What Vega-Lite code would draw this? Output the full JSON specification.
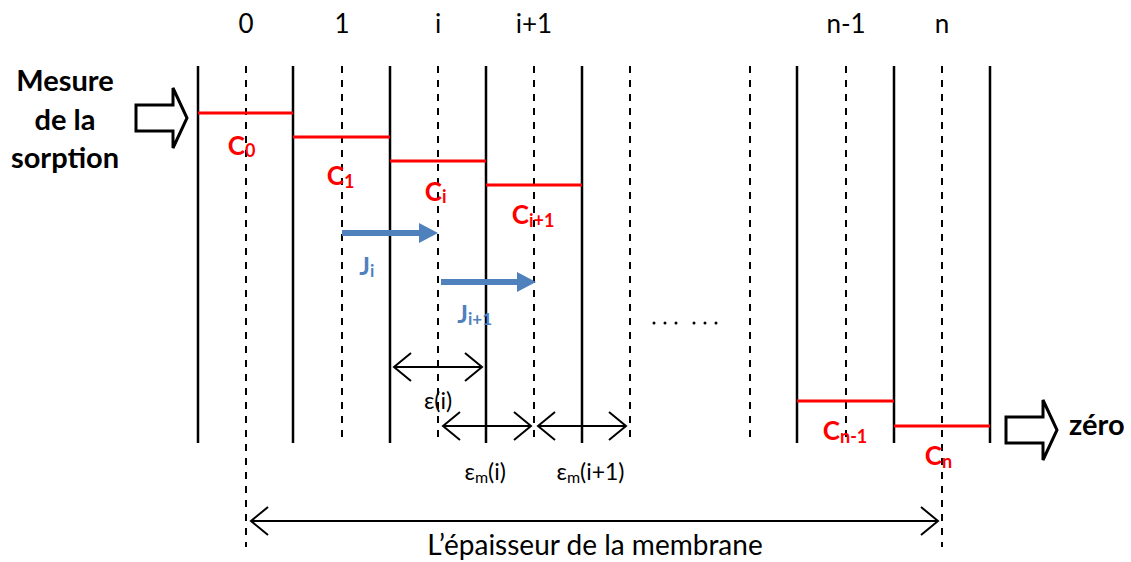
{
  "$schema": "https://vega.github.io/schema/vega-lite/v6.json",
  "width": 1131,
  "height": 562,
  "padding": 0,
  "autosize": {"type": "none"},
  "background": "white",
  "config": {"view": {"stroke": null}, "axis": {"disable": true}, "text": {"font": "Lato"}},
  "datasets": {
    "solid": [
      {"x": 198, "top": 66, "bottom": 443}, {"x": 293, "top": 66, "bottom": 443},
      {"x": 390, "top": 66, "bottom": 443}, {"x": 486, "top": 66, "bottom": 443},
      {"x": 582, "top": 66, "bottom": 443}, {"x": 797, "top": 66, "bottom": 443},
      {"x": 894, "top": 66, "bottom": 443}, {"x": 990, "top": 66, "bottom": 443}
    ],
    "dashed": [
      {"x": 246, "top": 66, "bottom": 547}, {"x": 342, "top": 66, "bottom": 443},
      {"x": 438, "top": 66, "bottom": 443}, {"x": 534, "top": 66, "bottom": 443},
      {"x": 630, "top": 66, "bottom": 443}, {"x": 750, "top": 66, "bottom": 443},
      {"x": 846, "top": 66, "bottom": 443}, {"x": 942, "top": 66, "bottom": 547}
    ],
    "conc": [
      {"x1": 198, "x2": 293, "y": 113}, {"x1": 293, "x2": 390, "y": 137},
      {"x1": 390, "x2": 486, "y": 161}, {"x1": 486, "x2": 582, "y": 185},
      {"x1": 797, "x2": 894, "y": 401}, {"x1": 894, "x2": 990, "y": 426}
    ],
    "flux": [
      {"x1": 342, "xs": 420, "x2": 438, "y": 233},
      {"x1": 441, "xs": 518, "x2": 536, "y": 282}
    ],
    "span": [
      {"x1": 394, "x2": 482, "y": 367},
      {"x1": 443, "x2": 531, "y": 426},
      {"x1": 538, "x2": 626, "y": 426},
      {"x1": 251, "x2": 938, "y": 521}
    ],
    "block": [{"x": 187, "y": 118}, {"x": 1057, "y": 430}],
    "dots": [
      {"x": 654, "y": 323}, {"x": 665, "y": 323}, {"x": 676, "y": 323},
      {"x": 694, "y": 323}, {"x": 705, "y": 323}, {"x": 716, "y": 323}
    ],
    "labels": [
      {"role": "top", "text": "0", "x": 246, "y": 25},
      {"role": "top", "text": "1", "x": 342, "y": 25},
      {"role": "top", "text": "i", "x": 438, "y": 25},
      {"role": "top", "text": "i+1", "x": 534, "y": 25},
      {"role": "top", "text": "n-1", "x": 846, "y": 25},
      {"role": "top", "text": "n", "x": 942, "y": 25},
      {"role": "side", "text": "Mesure", "x": 65, "y": 91},
      {"role": "side", "text": "de la", "x": 65, "y": 130},
      {"role": "side", "text": "sorption", "x": 65, "y": 168},
      {"role": "zero", "text": "zéro", "x": 1069, "y": 435},
      {"role": "cBase", "text": "C", "x": 245, "y": 147},
      {"role": "cSub", "text": "0", "x": 245, "y": 152},
      {"role": "cBase", "text": "C", "x": 344, "y": 177},
      {"role": "cSub", "text": "1", "x": 344, "y": 183},
      {"role": "cBase", "text": "C", "x": 442, "y": 193},
      {"role": "cSub", "text": "i", "x": 442, "y": 198},
      {"role": "cBase", "text": "C", "x": 529, "y": 216},
      {"role": "cSub", "text": "i+1", "x": 529, "y": 222},
      {"role": "cBase", "text": "C", "x": 840, "y": 432},
      {"role": "cSub", "text": "n-1", "x": 840, "y": 438},
      {"role": "cBase", "text": "C", "x": 942, "y": 457},
      {"role": "cSub", "text": "n", "x": 942, "y": 463},
      {"role": "jBase", "text": "J", "x": 370, "y": 267},
      {"role": "jSub", "text": "i", "x": 370, "y": 272},
      {"role": "jBase", "text": "J", "x": 468, "y": 315},
      {"role": "jSub", "text": "i+1", "x": 468, "y": 320},
      {"role": "eps", "text": "ε(i)", "x": 438, "y": 402},
      {"role": "epsBase", "text": "ε", "x": 475, "y": 473},
      {"role": "epsSub", "text": "m", "x": 475, "y": 478},
      {"role": "epsTail", "text": "(i)", "x": 488, "y": 473},
      {"role": "epsBase", "text": "ε", "x": 567, "y": 473},
      {"role": "epsSub", "text": "m", "x": 567, "y": 478},
      {"role": "epsTail", "text": "(i+1)", "x": 580, "y": 473},
      {"role": "membrane", "text": "L’épaisseur de la membrane", "x": 595, "y": 547}
    ]
  },
  "layer": [
    {
      "data": {"name": "solid"},
      "mark": {"type": "rule", "color": "black", "strokeWidth": 2.5},
      "encoding": {
        "x": {"field": "x", "type": "quantitative", "scale": {"domain": [0, 1131], "range": [0, 1131], "nice": false, "zero": false}},
        "y": {"field": "top", "type": "quantitative", "scale": {"domain": [0, 562], "range": [0, 562], "nice": false, "zero": false}},
        "y2": {"field": "bottom"}
      }
    },
    {
      "data": {"name": "dashed"},
      "mark": {"type": "rule", "color": "black", "strokeWidth": 2, "strokeDash": [7, 7]},
      "encoding": {
        "x": {"field": "x", "type": "quantitative"},
        "y": {"field": "top", "type": "quantitative"},
        "y2": {"field": "bottom"}
      }
    },
    {
      "data": {"name": "conc"},
      "mark": {"type": "rule", "color": "#FF0000", "strokeWidth": 3},
      "encoding": {
        "x": {"field": "x1", "type": "quantitative"},
        "x2": {"field": "x2"},
        "y": {"field": "y", "type": "quantitative"}
      }
    },
    {
      "data": {"name": "flux"},
      "mark": {"type": "rule", "color": "#4F81BD", "strokeWidth": 6},
      "encoding": {
        "x": {"field": "x1", "type": "quantitative"},
        "x2": {"field": "xs"},
        "y": {"field": "y", "type": "quantitative"}
      }
    },
    {
      "data": {"name": "flux"},
      "mark": {"type": "point", "shape": "M-19,-10L0,0L-19,10Z", "size": 4, "filled": true, "color": "#4F81BD", "opacity": 1, "strokeWidth": 0},
      "encoding": {
        "x": {"field": "x2", "type": "quantitative"},
        "y": {"field": "y", "type": "quantitative"}
      }
    },
    {
      "data": {"name": "span"},
      "mark": {"type": "rule", "color": "black", "strokeWidth": 2},
      "encoding": {
        "x": {"field": "x1", "type": "quantitative"},
        "x2": {"field": "x2"},
        "y": {"field": "y", "type": "quantitative"}
      }
    },
    {
      "data": {"name": "span"},
      "mark": {"type": "point", "shape": "M-17,-14L0,0L-17,14", "size": 4, "filled": false, "color": "black", "opacity": 1, "strokeWidth": 2},
      "encoding": {
        "x": {"field": "x2", "type": "quantitative"},
        "y": {"field": "y", "type": "quantitative"}
      }
    },
    {
      "data": {"name": "span"},
      "mark": {"type": "point", "shape": "M17,-14L0,0L17,14", "size": 4, "filled": false, "color": "black", "opacity": 1, "strokeWidth": 2},
      "encoding": {
        "x": {"field": "x1", "type": "quantitative"},
        "y": {"field": "y", "type": "quantitative"}
      }
    },
    {
      "data": {"name": "block"},
      "mark": {"type": "point", "shape": "M-51,-13L-14,-13L-14,-30L0,0L-14,30L-14,13L-51,13Z", "size": 4, "filled": false, "color": "black", "opacity": 1, "strokeWidth": 3, "strokeJoin": "miter"},
      "encoding": {
        "x": {"field": "x", "type": "quantitative"},
        "y": {"field": "y", "type": "quantitative"}
      }
    },
    {
      "data": {"name": "dots"},
      "mark": {"type": "point", "shape": "circle", "size": 9, "filled": true, "color": "black", "opacity": 1},
      "encoding": {
        "x": {"field": "x", "type": "quantitative"},
        "y": {"field": "y", "type": "quantitative"}
      }
    },
    {
      "data": {"name": "labels"},
      "transform": [{"filter": "datum.role == 'top'"}],
      "mark": {"type": "text", "fontSize": 26, "color": "black", "align": "center", "baseline": "middle"},
      "encoding": {"x": {"field": "x", "type": "quantitative"}, "y": {"field": "y", "type": "quantitative"}, "text": {"field": "text"}}
    },
    {
      "data": {"name": "labels"},
      "transform": [{"filter": "datum.role == 'side'"}],
      "mark": {"type": "text", "fontSize": 29, "fontWeight": "bold", "color": "black", "align": "center", "baseline": "alphabetic"},
      "encoding": {"x": {"field": "x", "type": "quantitative"}, "y": {"field": "y", "type": "quantitative"}, "text": {"field": "text"}}
    },
    {
      "data": {"name": "labels"},
      "transform": [{"filter": "datum.role == 'zero'"}],
      "mark": {"type": "text", "fontSize": 29, "fontWeight": "bold", "color": "black", "align": "left", "baseline": "alphabetic"},
      "encoding": {"x": {"field": "x", "type": "quantitative"}, "y": {"field": "y", "type": "quantitative"}, "text": {"field": "text"}}
    },
    {
      "data": {"name": "labels"},
      "transform": [{"filter": "datum.role == 'cBase'"}],
      "mark": {"type": "text", "fontSize": 26, "fontWeight": "bold", "color": "#FF0000", "align": "right", "baseline": "middle"},
      "encoding": {"x": {"field": "x", "type": "quantitative"}, "y": {"field": "y", "type": "quantitative"}, "text": {"field": "text"}}
    },
    {
      "data": {"name": "labels"},
      "transform": [{"filter": "datum.role == 'cSub'"}],
      "mark": {"type": "text", "fontSize": 18, "fontWeight": "bold", "color": "#FF0000", "align": "left", "baseline": "middle"},
      "encoding": {"x": {"field": "x", "type": "quantitative"}, "y": {"field": "y", "type": "quantitative"}, "text": {"field": "text"}}
    },
    {
      "data": {"name": "labels"},
      "transform": [{"filter": "datum.role == 'jBase'"}],
      "mark": {"type": "text", "fontSize": 25, "fontWeight": "bold", "color": "#4F81BD", "align": "right", "baseline": "middle"},
      "encoding": {"x": {"field": "x", "type": "quantitative"}, "y": {"field": "y", "type": "quantitative"}, "text": {"field": "text"}}
    },
    {
      "data": {"name": "labels"},
      "transform": [{"filter": "datum.role == 'jSub'"}],
      "mark": {"type": "text", "fontSize": 17, "fontWeight": "bold", "color": "#4F81BD", "align": "left", "baseline": "middle"},
      "encoding": {"x": {"field": "x", "type": "quantitative"}, "y": {"field": "y", "type": "quantitative"}, "text": {"field": "text"}}
    },
    {
      "data": {"name": "labels"},
      "transform": [{"filter": "datum.role == 'eps'"}],
      "mark": {"type": "text", "fontSize": 23, "color": "black", "align": "center", "baseline": "middle"},
      "encoding": {"x": {"field": "x", "type": "quantitative"}, "y": {"field": "y", "type": "quantitative"}, "text": {"field": "text"}}
    },
    {
      "data": {"name": "labels"},
      "transform": [{"filter": "datum.role == 'epsBase'"}],
      "mark": {"type": "text", "fontSize": 23, "color": "black", "align": "right", "baseline": "middle"},
      "encoding": {"x": {"field": "x", "type": "quantitative"}, "y": {"field": "y", "type": "quantitative"}, "text": {"field": "text"}}
    },
    {
      "data": {"name": "labels"},
      "transform": [{"filter": "datum.role == 'epsSub'"}],
      "mark": {"type": "text", "fontSize": 16, "color": "black", "align": "left", "baseline": "middle"},
      "encoding": {"x": {"field": "x", "type": "quantitative"}, "y": {"field": "y", "type": "quantitative"}, "text": {"field": "text"}}
    },
    {
      "data": {"name": "labels"},
      "transform": [{"filter": "datum.role == 'epsTail'"}],
      "mark": {"type": "text", "fontSize": 23, "color": "black", "align": "left", "baseline": "middle"},
      "encoding": {"x": {"field": "x", "type": "quantitative"}, "y": {"field": "y", "type": "quantitative"}, "text": {"field": "text"}}
    },
    {
      "data": {"name": "labels"},
      "transform": [{"filter": "datum.role == 'membrane'"}],
      "mark": {"type": "text", "fontSize": 28, "color": "black", "align": "center", "baseline": "middle"},
      "encoding": {"x": {"field": "x", "type": "quantitative"}, "y": {"field": "y", "type": "quantitative"}, "text": {"field": "text"}}
    }
  ]
}
